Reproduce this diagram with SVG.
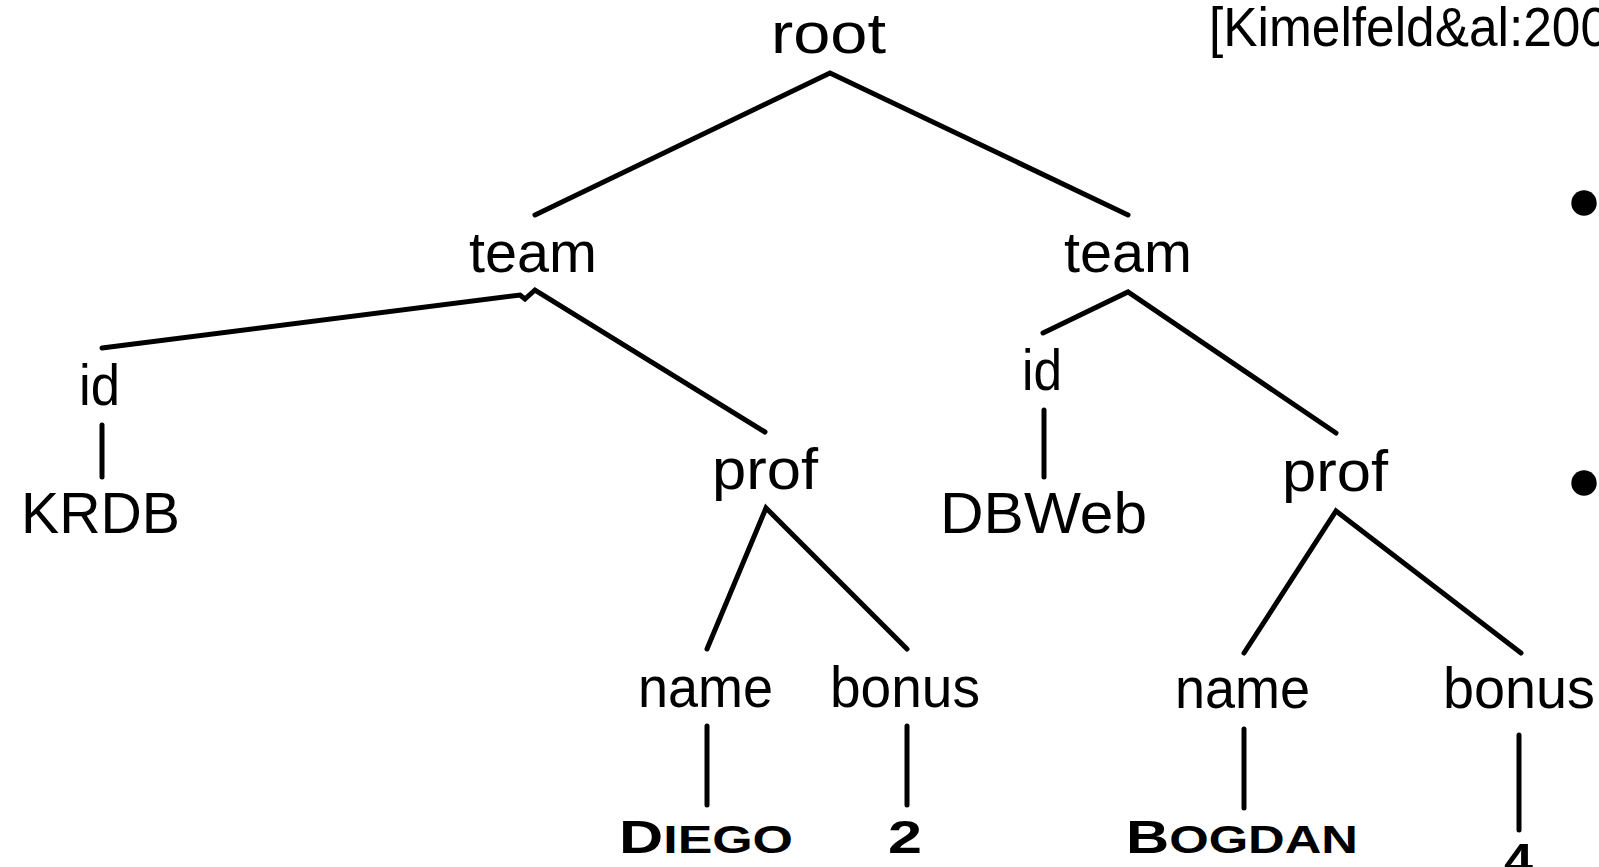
<svg xmlns="http://www.w3.org/2000/svg" width="1599" height="867" viewBox="0 0 1599 867">
<style>
.lbl{font-family:"Liberation Sans","Noto Sans",sans-serif;font-size:58px;fill:#000}
.val{font-family:"Liberation Sans",sans-serif;font-weight:bold;fill:#000}
.cite{font-family:"Liberation Sans",sans-serif;font-size:55px;fill:#000}
.edge{fill:none;stroke:#000;stroke-width:5;stroke-linecap:round;stroke-linejoin:miter}
</style>
<rect width="1599" height="867" fill="#fff"/>
<g id="connectors">
<path class="edge" d="M535,215 L830,73 L1128,215"/>
<path class="edge" d="M102,348 L520,295 L525,299 L535,290 L765,432"/>
<path class="edge" d="M1043,333 L1128,292 L1336,433"/>
<path class="edge" d="M102,425 L102,477"/>
<path class="edge" d="M1044,410 L1044,477"/>
<path class="edge" d="M707,649 L766,508 L907,649"/>
<path class="edge" d="M1244,653 L1336,511 L1521,653"/>
<path class="edge" d="M707,726 L707,805"/>
<path class="edge" d="M907,726 L907,805"/>
<path class="edge" d="M1244,729 L1244,808"/>
<path class="edge" d="M1519,735 L1519,830"/>
</g>
<g id="citation"><text class="cite" x="1209" y="46" textLength="400" lengthAdjust="spacingAndGlyphs">[Kimelfeld&amp;al:200</text></g>
<g id="bullets">
<circle cx="1584" cy="203" r="12.7" fill="#000"/>
<circle cx="1584" cy="483" r="12.7" fill="#000"/>
</g>
<g id="n-root"><text class="lbl" x="771" y="53" textLength="115" lengthAdjust="spacingAndGlyphs">root</text></g>
<g id="n-team1"><text class="lbl" x="469" y="272" textLength="128" lengthAdjust="spacingAndGlyphs">team</text></g>
<g id="n-team2"><text class="lbl" x="1064" y="272" textLength="128" lengthAdjust="spacingAndGlyphs">team</text></g>
<g id="n-id1"><text class="lbl" x="79" y="405" textLength="41" lengthAdjust="spacingAndGlyphs">id</text></g>
<g id="n-krdb"><text class="lbl" x="21" y="533" textLength="159" lengthAdjust="spacingAndGlyphs">KRDB</text></g>
<g id="n-prof1"><text class="lbl" x="712" y="489" textLength="106" lengthAdjust="spacingAndGlyphs">prof</text></g>
<g id="n-id2"><text class="lbl" x="1022" y="390" textLength="40" lengthAdjust="spacingAndGlyphs">id</text></g>
<g id="n-dbweb"><text class="lbl" x="940" y="533" textLength="207" lengthAdjust="spacingAndGlyphs">DBWeb</text></g>
<g id="n-prof2"><text class="lbl" x="1282" y="491" textLength="106" lengthAdjust="spacingAndGlyphs">prof</text></g>
<g id="n-name1"><text class="lbl" x="638" y="707" textLength="135" lengthAdjust="spacingAndGlyphs">name</text></g>
<g id="n-bonus1"><text class="lbl" x="830" y="707" textLength="150" lengthAdjust="spacingAndGlyphs">bonus</text></g>
<g id="n-name2"><text class="lbl" x="1175" y="708" textLength="135" lengthAdjust="spacingAndGlyphs">name</text></g>
<g id="n-bonus2"><text class="lbl" x="1443" y="708" textLength="152" lengthAdjust="spacingAndGlyphs">bonus</text></g>
<g id="n-diego"><text class="val" x="619" y="853" textLength="174" lengthAdjust="spacingAndGlyphs"><tspan font-size="46">D</tspan><tspan font-size="39">IEGO</tspan></text></g>
<g id="n-2"><text class="val" x="888" y="853" font-size="46" textLength="34" lengthAdjust="spacingAndGlyphs">2</text></g>
<g id="n-bogdan"><text class="val" x="1126" y="853" textLength="232" lengthAdjust="spacingAndGlyphs"><tspan font-size="46">B</tspan><tspan font-size="39">OGDAN</tspan></text></g>
<g id="n-4"><text class="val" x="1504" y="876" font-size="46" textLength="29" lengthAdjust="spacingAndGlyphs">4</text></g>
</svg>
